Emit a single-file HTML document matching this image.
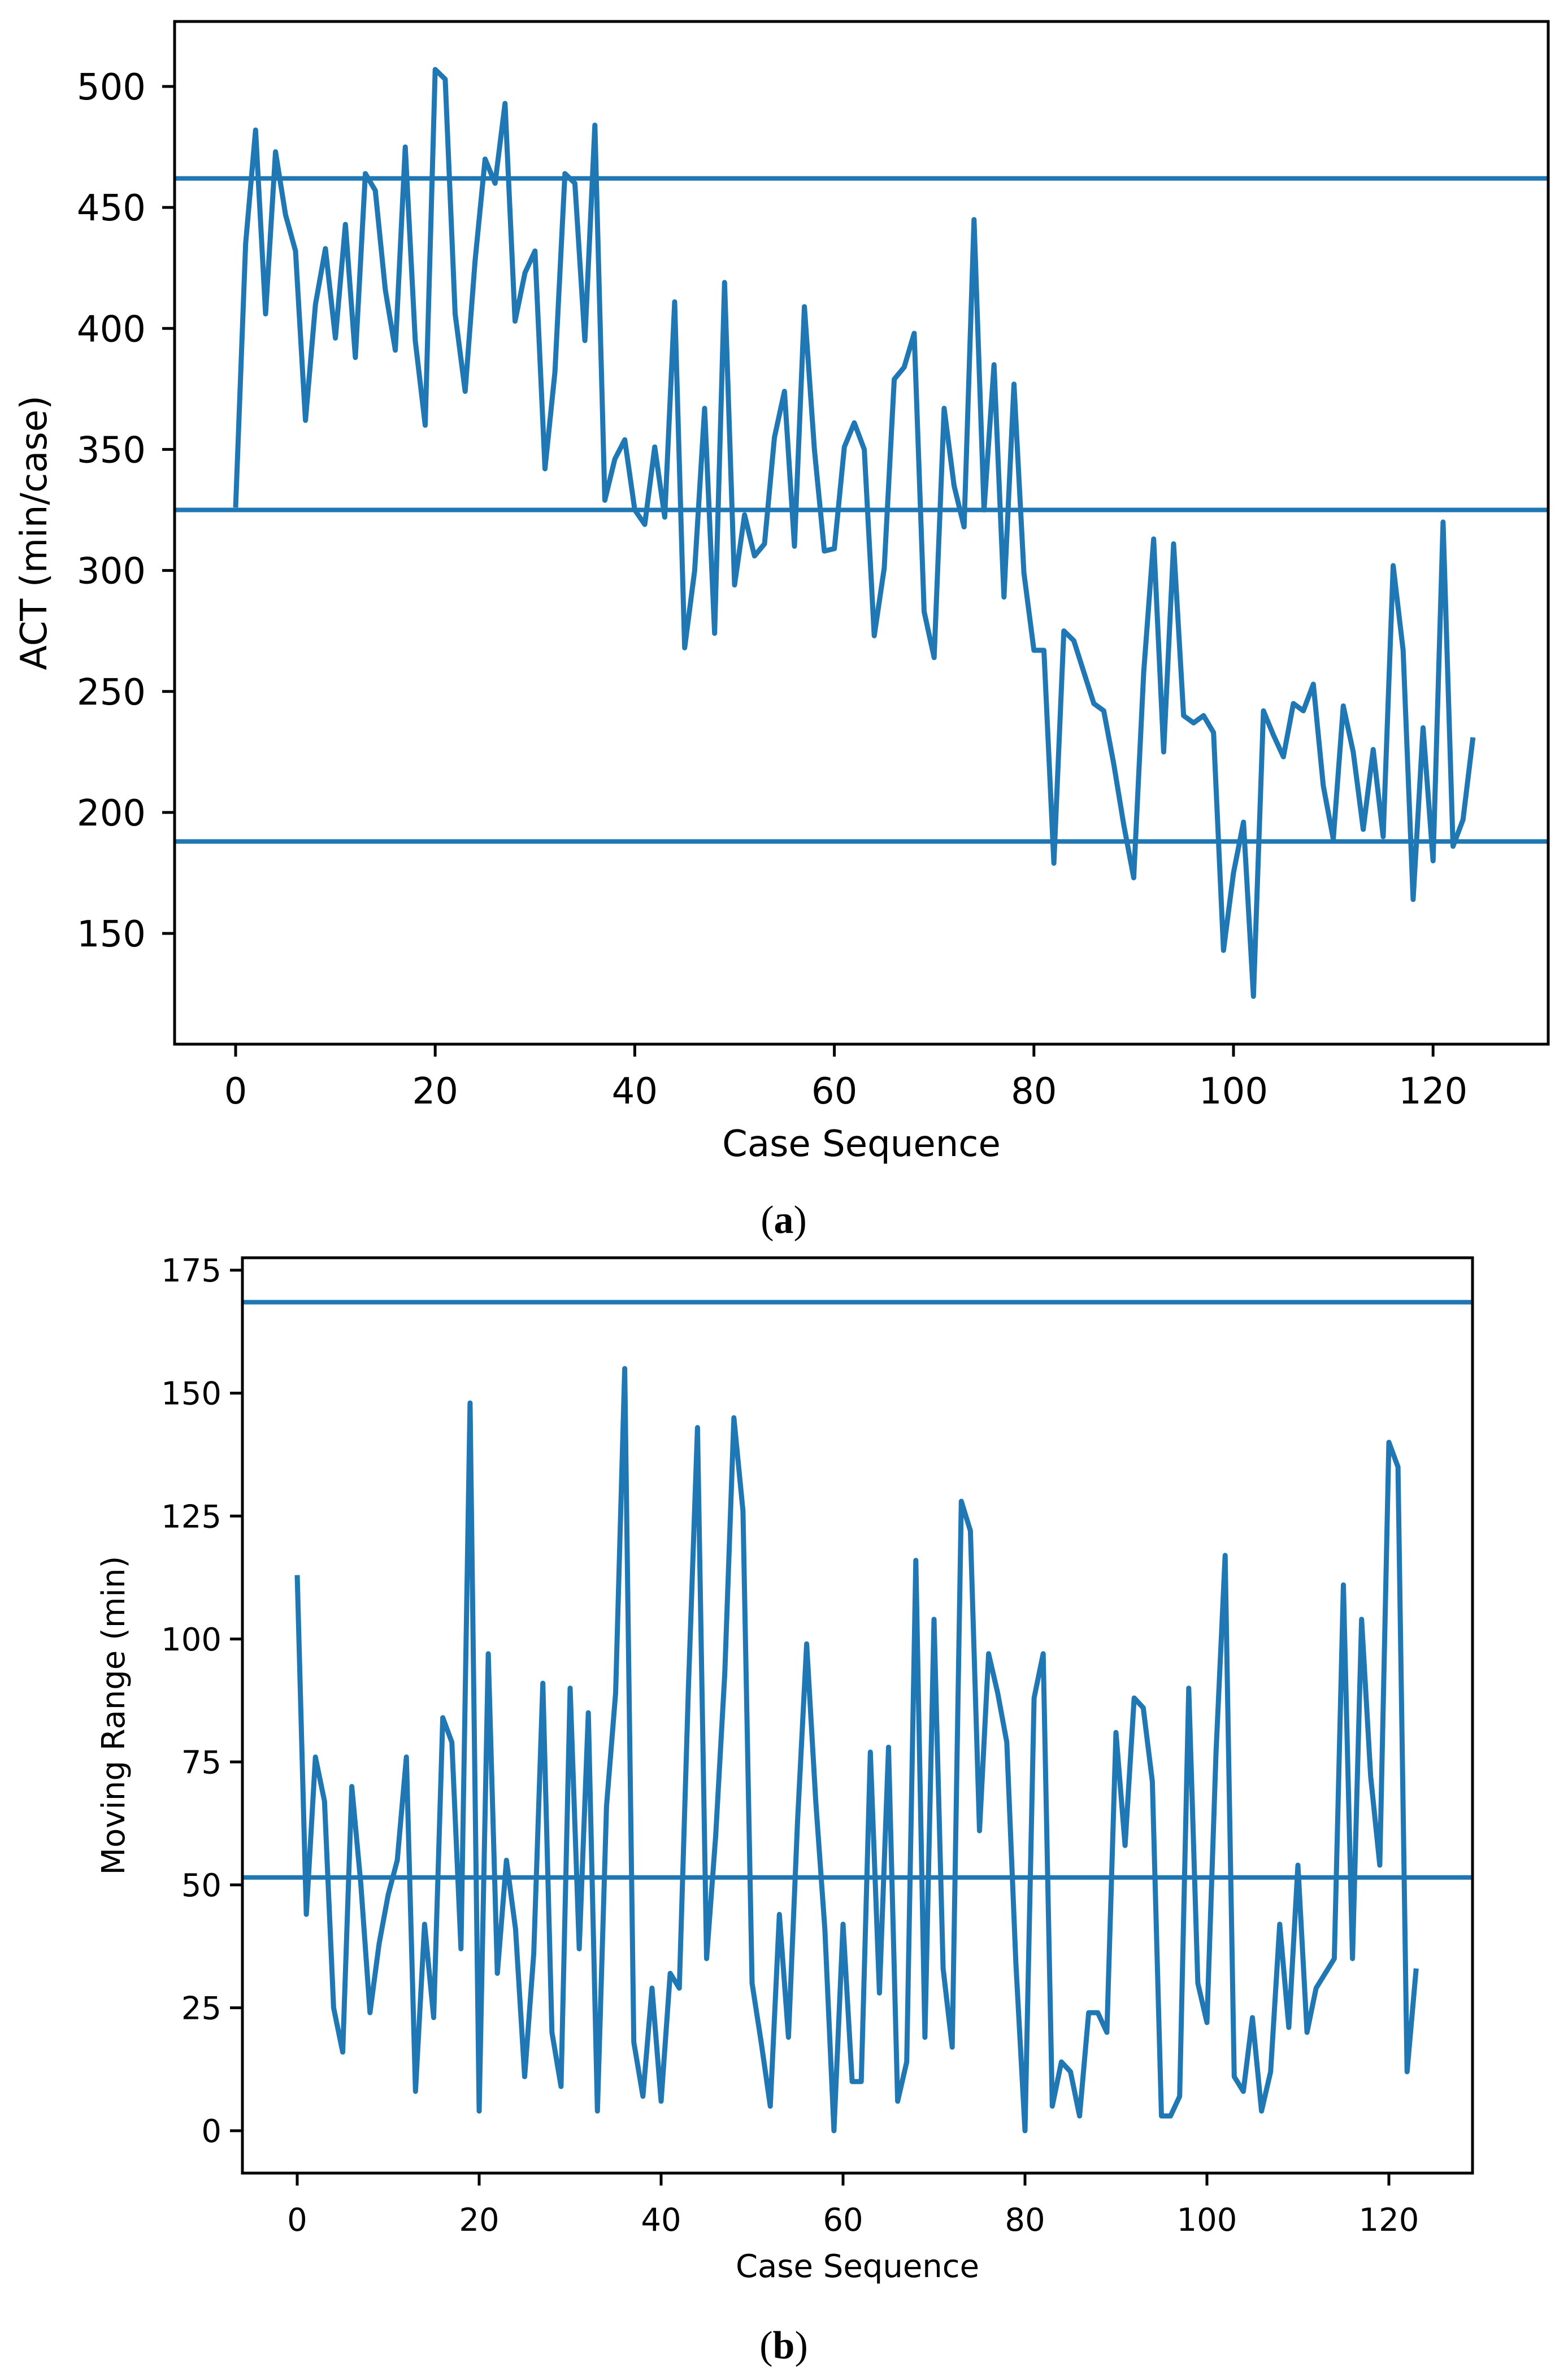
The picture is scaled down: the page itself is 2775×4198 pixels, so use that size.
<!DOCTYPE html>
<html><head><meta charset="utf-8"><style>
html,body{margin:0;padding:0;background:#fff;}
svg{display:block;font-family:"DejaVu Sans","Liberation Sans",sans-serif;}
</style></head><body>
<svg id="svg" width="2775" height="4198" viewBox="0 0 2775 4198" xmlns="http://www.w3.org/2000/svg">
<rect width="2775" height="4198" fill="#fff"/>
<g id="ga"></g>
<g id="gb"></g>
<text x="1387" y="2182" text-anchor="middle" font-family="Liberation Serif, serif" font-size="70">(<tspan font-weight="bold">a</tspan>)</text>
<text x="1387" y="4174" text-anchor="middle" font-family="Liberation Serif, serif" font-size="70">(<tspan font-weight="bold">b</tspan>)</text>
</svg>
<script>
const actValues=[326,435,482,406,473,447,432,362,410,433,396,443,388,464,457,416,391,475,395,360,507,503,406,374,428,470,460,493,403,423,432,342,382,464,460,395,484,329,346,354,325,319,351,322,411,268,300,367,274,419,294,323,306,311,355,374,310,409,350,308,309,351,361,350,273,301,379,384,398,283,264,367,335,318,445,325,385,289,377,299,267,267,179,275,271,258,245,242,220,195,173,258,313,225,311,240,237,240,233,143,175,196,124,242,232,223,245,242,253,211,189,244,225,193,226,190,302,267,164,235,180,320,186,197,231];
const actLimits=[462,325,188];
const actYTicks=[150,200,250,300,350,400,450,500];
const xTicksA=[0,20,40,60,80,100,120];
const mrValues=[113,44,76,67,25,16,70,50,24,38,48,55,76,8,42,23,84,79,37,148,4,97,32,55,41,11,36,91,20,9,90,37,85,4,66,89,155,18,7,29,6,32,29,90,143,35,60,93,145,126,30,18,5,44,19,63,99,67,41,0,42,10,10,77,28,78,6,14,116,19,104,33,17,128,122,61,97,89,79,34,0,88,97,5,14,12,3,24,24,20,81,58,88,86,71,3,3,7,90,30,22,77,117,11,8,23,4,12,42,21,54,20,29,32,35,111,35,104,72,54,140,135,12,33];
const mrLimits=[168.5,51.5];
const mrYTicks=[0,25,50,75,100,125,150,175];
const xTicksB=[0,20,40,60,80,100,120];

const NS="http://www.w3.org/2000/svg";
function mk(parent,tag,attrs){const e=document.createElementNS(NS,tag);for(const k in attrs)e.setAttribute(k,attrs[k]);parent.appendChild(e);return e;}
const C="#1f77b4";

function drawChart(g,cfg){
  const {L,R,T,B,x0,xpx,yv1,yp1,yv2,yp2,fs,values,limits,yTicks,xTicks,ylabel,ylabX,xlabY,yTickRight,xTickY}=cfg;
  const sx=v=>x0+v*xpx;
  const sy=v=>yp1+(v-yv1)*(yp2-yp1)/(yv2-yv1);
  limits.forEach((v,i)=>{
    const l=mk(g,'line',{x1:L,x2:R,y1:sy(v),y2:sy(v),stroke:C,'stroke-width':8});
    
    
  });
  const pts=values.map((v,i)=>sx(i).toFixed(1)+','+sy(v).toFixed(1)).join(' ');
  const pl=mk(g,'polyline',{points:pts,fill:'none',stroke:C,'stroke-width':9,'stroke-linejoin':'round'});
  
  
  const fr=mk(g,'rect',{x:L,y:T,width:R-L,height:B-T,fill:'none',stroke:'#000','stroke-width':5});
  
  
  yTicks.forEach(v=>{
    const y=sy(v);
    const tk=mk(g,'line',{x1:L-22,x2:L,y1:y,y2:y,stroke:'#000','stroke-width':5});
    
    
    const t=mk(g,'text',{x:yTickRight,y:y+fs*0.36,'text-anchor':'end','font-size':fs,fill:'#000'});
    t.textContent=v;
    
    
  });
  xTicks.forEach(v=>{
    const x=sx(v);
    const tk=mk(g,'line',{x1:x,x2:x,y1:B,y2:B+22,stroke:'#000','stroke-width':5});
    
    
    const t=mk(g,'text',{x:x,y:xTickY,'text-anchor':'middle','font-size':fs,fill:'#000'});
    t.textContent=v;
    
    
  });
  const xl=mk(g,'text',{x:(L+R)/2,y:xlabY,'text-anchor':'middle','font-size':fs,fill:'#000'});
  xl.textContent='Case Sequence';
  
  
  const ym=(T+B)/2;
  const yl=mk(g,'text',{x:ylabX,y:ym,'text-anchor':'middle','font-size':fs,fill:'#000',transform:'rotate(-90 '+ylabX+' '+ym+')'});
  yl.textContent=ylabel;
  
  
}
drawChart(document.getElementById('ga'),{L:309,R:2740,T:38,B:1848,x0:417,xpx:17.66,yv1:150,yp1:1652,yv2:500,yp2:153,fs:64,
  values:actValues,limits:actLimits,yTicks:actYTicks,xTicks:xTicksA,ylabel:'ACT (min/case)',ylabX:82,xlabY:2046,yTickRight:258,xTickY:1953});
drawChart(document.getElementById('gb'),{L:429,R:2606,T:2226,B:3846,x0:526,xpx:16.1,yv1:0,yp1:3771,yv2:175,yp2:2248,fs:56,
  values:mrValues,limits:mrLimits,yTicks:mrYTicks,xTicks:xTicksB,ylabel:'Moving Range (min)',ylabX:220,xlabY:4030,yTickRight:392,xTickY:3948});
</script>
</body></html>
